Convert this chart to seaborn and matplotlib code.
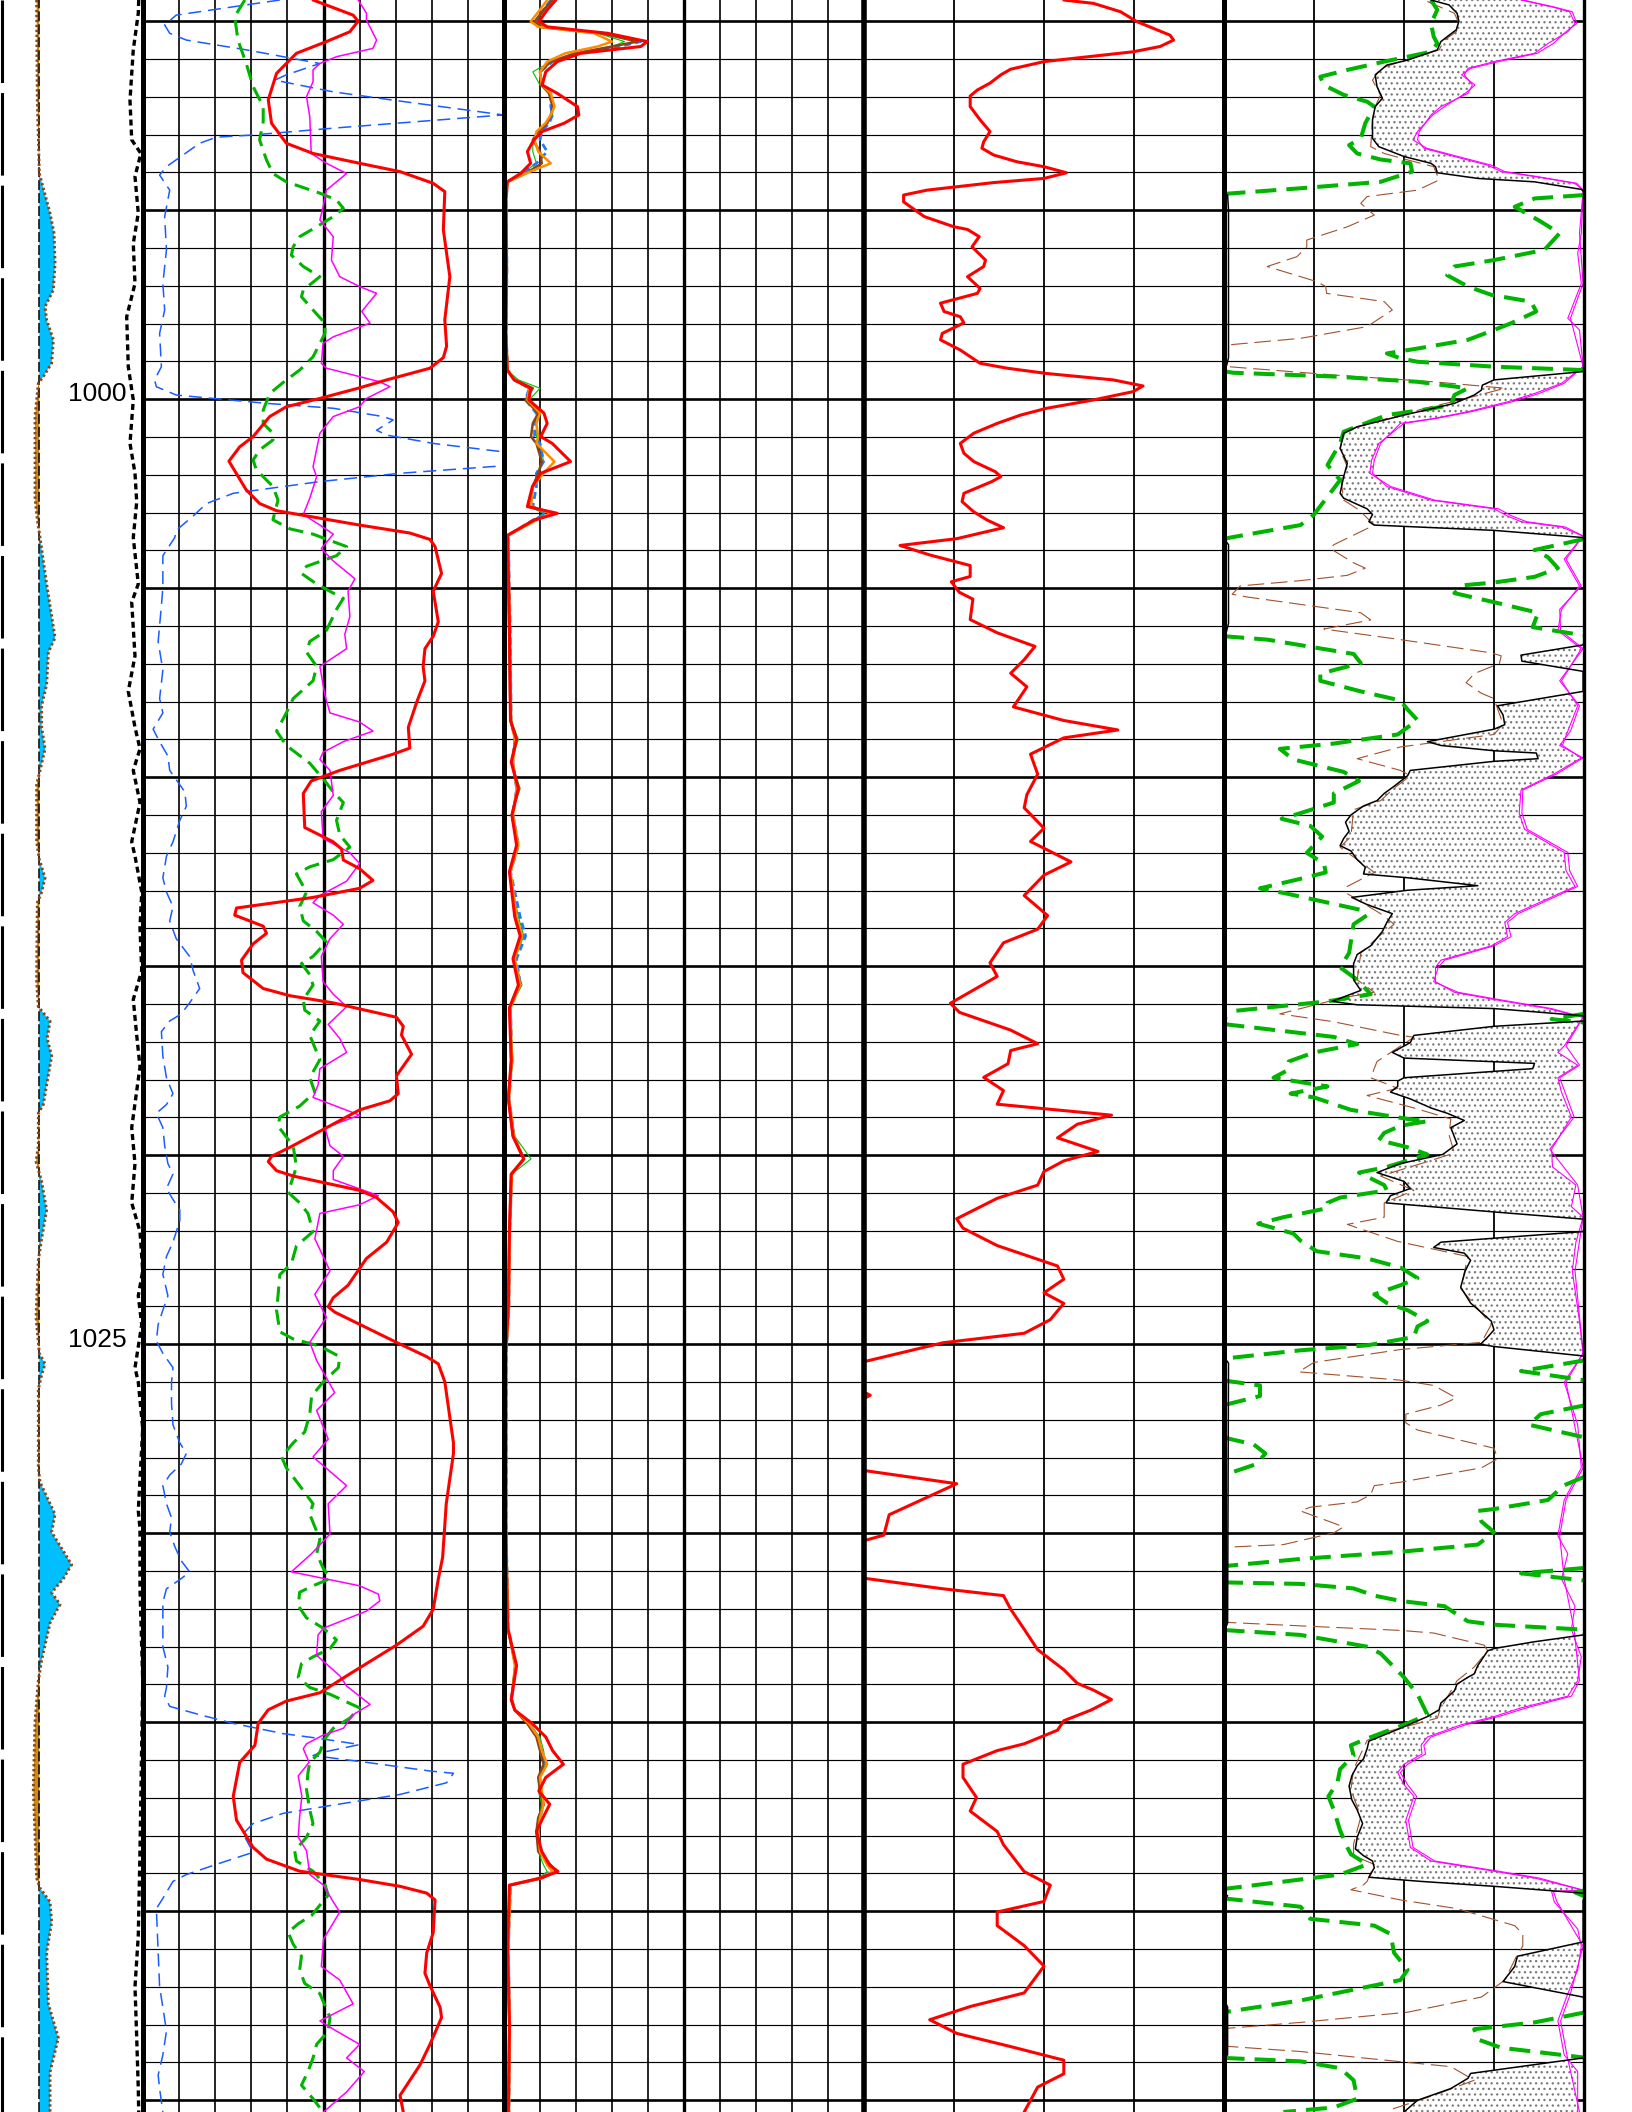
import numpy as np
import pandas as pd
import matplotlib
matplotlib.use("Agg")
import matplotlib.pyplot as plt
import seaborn as sns

sns.set_theme(style="white")
plt.rcParams["font.family"] = ["Liberation Sans", "DejaVu Sans"]
plt.rcParams["hatch.linewidth"] = 0.9

TOP, BOTTOM = 989.44, 1045.31
DEPTH_LABELS = [1000, 1025]
SP_BASE = 2.75

# ---------------- depth track ----------------
sp_curve = [(989.44,2.56),(992.09,2.61),(994.03,2.75),(995.08,3.50),(995.61,3.78),(996.41,3.85),(997.11,3.73),(997.55,3.15),(997.90,3.26),(998.43,3.73),
 (999.05,3.61),(999.40,3.03),(999.58,2.68),(1000.46,2.45),(1002.23,2.45),(1002.62,2.45),(1003.19,2.61),(1003.66,2.80),(1004.89,3.26),(1006.31,3.85),
 (1006.69,3.38),(1007.55,3.26),(1008.11,2.91),(1008.68,2.91),(1009.25,3.15),(1009.82,2.80),(1010.20,2.56),(1011.71,2.56),(1012.18,2.75),(1012.66,3.15),
 (1013.04,2.91),(1013.32,2.61),(1015.40,2.56),(1016.07,2.68),(1016.45,3.50),(1016.91,3.30),(1017.38,3.61),(1018.14,3.26),(1018.66,3.03),(1018.89,2.68),
 (1019.75,2.68),(1020.17,2.52),(1020.69,2.91),(1021.45,3.26),(1022.21,2.91),(1022.78,2.68),(1024.29,2.52),(1025.24,2.75),(1025.52,3.15),(1025.81,2.91),
 (1026.19,2.68),(1028.27,2.68),(1028.65,2.80),(1029.50,3.85),(1029.97,3.61),(1030.83,5.01),(1031.20,4.43),(1031.57,3.61),(1031.88,4.20),(1032.37,3.50),
 (1033.36,2.91),(1033.90,2.68),(1034.98,2.45),(1036.78,2.33),(1039.12,2.56),(1039.39,2.80),(1039.75,3.50),(1040.29,3.61),(1041.10,3.26),(1042.45,3.38),
 (1043.35,4.08),(1044.25,3.50),(1045.31,3.50)]
caliper = [(989.44,9.70),(989.79,9.67),(990.76,9.32),(992.09,9.09),(993.14,9.21),(993.50,9.85),(994.11,9.44),(995.08,9.67),(995.88,9.32),(996.94,9.44),
 (997.82,8.86),(999.14,8.97),(1000.02,9.32),(1001.17,9.09),(1001.96,9.44),(1002.72,9.56),(1003.66,9.32),(1004.89,9.67),(1005.37,9.21),(1006.79,9.44),
 (1007.73,8.97),(1008.68,9.44),(1009.25,9.79),(1009.82,9.32),(1010.67,9.79),(1011.71,9.21),(1012.09,9.44),(1013.04,9.91),(1013.98,9.79),(1015.12,9.91),
 (1015.88,9.32),(1016.83,9.56),(1017.66,9.79),(1019.27,9.21),(1020.22,9.44),(1021.26,9.21),(1022.02,9.79),(1023.06,9.98),(1023.72,9.67),(1024.48,9.91),
 (1025.62,9.44),(1026.00,9.67),(1027.23,9.98),(1029.41,9.67),(1029.88,9.79),(1031.47,9.79),(1033.90,9.98),(1038.40,9.79),(1040.65,9.67),(1042.00,9.44),
 (1043.35,9.56),(1044.69,9.67),(1045.31,9.70)]
edge_curve = [(989.44,0.12),(1045.31,0.12)]

# ---------------- track 1 ----------------
t1_red = [(989.44,4.71),(989.84,5.82),(990.00,5.96),(990.28,5.73),(990.54,5.08),(990.85,4.25),(991.38,3.70),(992.08,3.47),(992.70,3.56),(993.23,3.97),
 (993.50,4.71),(993.76,6.00),(993.98,7.12),(994.29,8.04),(994.51,8.36),(995.52,8.32),(996.76,8.50),(997.90,8.36),(998.60,8.41),(998.90,8.32),
 (999.18,7.95),(999.49,6.75),(999.71,5.96),(999.98,4.90),(1000.20,3.97),(1000.46,3.51),(1000.99,3.05),(1001.26,2.68),(1001.64,2.38),(1002.40,2.86),
 (1002.76,3.23),(1002.95,3.70),(1003.33,6.00),(1003.54,7.39),(1003.71,7.95),(1003.90,8.09),(1004.61,8.27),(1005.08,8.04),(1005.89,8.18),(1006.27,8.04),
 (1006.60,7.81),(1007.07,7.76),(1007.45,7.81),(1008.02,7.58),(1008.68,7.35),(1009.23,7.39),(1009.39,6.93),(1009.82,5.45),(1010.10,4.66),(1010.43,4.44),
 (1011.33,4.48),(1011.71,5.27),(1011.90,5.50),(1012.19,5.55),(1012.42,6.00),(1012.73,6.37),(1012.94,6.00),(1013.18,4.71),(1013.46,2.59),(1013.65,2.54),
 (1013.94,3.33),(1014.13,3.42),(1014.41,3.05),(1014.84,2.73),(1015.17,2.77),(1015.59,3.33),(1015.78,4.07),(1015.97,5.27),(1016.35,7.02),(1016.59,7.21),
 (1016.82,7.16),(1017.33,7.44),(1017.90,7.02),(1018.37,7.07),(1018.56,6.84),(1018.80,6.00),(1019.32,4.99),(1019.79,4.07),(1020.03,3.56),(1020.17,3.47),
 (1020.41,3.70),(1020.55,4.16),(1020.93,6.00),(1021.12,6.47),(1021.50,6.93),(1021.78,7.07),(1022.30,6.75),(1022.73,6.19),(1023.44,5.68),(1023.77,5.27),
 (1024.01,5.13),(1024.15,5.31),(1024.95,7.02),(1025.33,7.86),(1025.52,8.18),(1025.99,8.36),(1027.61,8.60),(1027.89,8.60),(1029.22,8.40),(1030.64,8.30),
 (1031.21,8.18),(1032.01,8.04),(1032.46,7.76),(1032.96,7.02),(1033.23,6.56),(1033.72,5.73),(1034.22,4.90),(1034.44,3.97),(1034.67,3.47),(1035.03,3.19),
 (1035.61,3.10),(1036.06,2.68),(1036.96,2.50),(1037.59,2.59),(1038.31,3.05),(1038.62,3.42),(1038.94,4.34),(1039.16,6.00),(1039.34,7.12),(1039.52,7.86),
 (1039.70,8.09),(1040.56,8.04),(1041.10,7.86),(1041.64,7.81),(1041.97,7.95),(1042.54,8.23),(1042.81,8.27),(1043.52,7.95),(1044.07,7.67),(1044.87,7.12),
 (1045.31,7.21)]
t1_magenta = [(989.44,5.96),(989.79,6.19),(989.97,6.19),(990.50,6.47),(990.72,6.37),(990.94,5.36),(991.12,4.90),(991.29,4.71),(991.60,4.71),(992.00,4.53),
 (992.53,4.62),(993.50,4.66),(993.76,5.08),(994.03,5.64),(994.47,5.08),(994.91,4.99),(995.26,4.90),(995.70,5.27),(996.32,5.22),(996.76,5.45),
 (997.02,6.00),(997.20,6.47),(997.68,6.06),(997.99,6.29),(998.35,5.27),(998.52,4.99),(999.05,4.94),(999.18,5.08),(999.54,6.56),(999.67,6.84),
 (999.98,6.19),(1000.20,6.00),(1000.46,5.27),(1000.90,4.90),(1001.79,4.71),(1002.05,4.81),(1002.62,4.62),(1003.05,4.44),(1003.33,4.90),(1003.57,5.27),
 (1003.95,4.94),(1004.28,5.27),(1004.75,5.87),(1005.08,5.68),(1005.75,5.73),(1006.22,5.59),(1006.60,5.64),(1007.07,4.90),(1007.83,5.04),(1008.30,5.18),
 (1008.54,6.00),(1008.78,6.37),(1009.06,5.55),(1009.34,4.99),(1009.53,4.90),(1009.82,5.18),(1010.48,5.27),(1010.91,4.94),(1011.62,4.99),(1012.00,5.73),
 (1012.28,6.00),(1012.75,5.64),(1013.13,4.90),(1013.32,4.71),(1013.65,5.27),(1013.89,5.55),(1014.27,5.18),(1014.74,4.94),(1015.41,4.99),(1015.74,5.27),
 (1016.07,5.64),(1016.54,5.13),(1016.91,5.45),(1017.28,5.64),(1017.71,4.90),(1018.14,4.85),(1018.47,4.71),(1018.94,6.00),(1019.27,5.04),(1019.75,5.18),
 (1020.03,5.55),(1020.41,5.27),(1020.64,5.27),(1021.07,6.52),(1021.31,6.00),(1021.54,4.90),(1022.21,4.76),(1023.06,5.18),(1023.68,4.76),(1024.29,5.08),
 (1024.95,4.62),(1025.43,4.81),(1026.28,5.31),(1026.75,4.81),(1027.51,5.13),(1027.98,4.71),(1028.74,5.64),(1029.22,5.13),(1030.02,5.18),(1030.54,4.67),
 (1031.02,4.11),(1031.39,6.00),(1031.61,6.52),(1031.79,6.56),(1032.06,6.19),(1032.51,5.00),(1032.69,4.85),(1033.23,4.81),(1033.54,5.18),(1033.77,5.45),
 (1034.04,5.64),(1034.31,6.00),(1034.53,6.29),(1034.80,5.82),(1035.16,5.55),(1035.34,4.99),(1035.57,4.53),(1035.70,4.44),(1036.06,4.60),(1036.42,4.30),
 (1036.96,4.40),(1037.50,4.34),(1038.04,4.30),(1038.40,4.53),(1039.03,4.62),(1039.30,4.99),(1039.75,5.27),(1040.02,5.45),(1040.74,5.00),(1041.46,4.94),
 (1041.82,5.45),(1042.45,5.82),(1042.90,4.90),(1043.17,5.36),(1043.52,6.00),(1043.88,5.64),(1044.24,6.13),(1044.78,5.64),(1045.31,5.00)]
t1_green = [(989.44,2.82),(989.88,2.54),(990.50,2.63),(991.12,2.86),(991.73,3.05),(992.26,3.33),(992.66,3.33),(993.14,3.23),(993.67,3.42),(994.03,3.60),
 (994.25,3.97),(994.55,4.90),(994.73,5.36),(994.95,5.55),(995.17,5.27),(995.44,4.81),(995.70,4.34),(995.97,4.16),(996.19,4.11),(996.49,4.44),
 (996.76,4.90),(997.11,4.44),(997.29,4.39),(997.64,4.71),(997.99,5.04),(998.26,5.04),(998.88,4.71),(999.23,4.34),(999.49,3.97),(999.85,3.51),
 (1000.29,3.33),(1000.64,3.33),(1000.90,3.60),(1001.08,3.60),(1001.34,3.23),(1001.61,3.05),(1001.87,3.14),(1002.31,3.60),(1002.67,3.74),(1003.19,3.60),
 (1003.43,4.07),(1003.57,4.71),(1003.90,5.64),(1004.14,5.36),(1004.42,4.53),(1004.61,4.39),(1004.89,4.81),(1005.13,5.27),(1005.27,5.55),(1005.56,5.36),
 (1006.12,5.08),(1006.41,4.62),(1006.69,4.53),(1007.07,4.81),(1007.45,4.71),(1007.92,4.16),(1008.30,3.97),(1008.78,3.70),(1009.16,3.97),(1009.63,4.62),
 (1010.10,5.04),(1010.39,5.27),(1010.67,5.55),(1011.14,5.36),(1011.52,5.45),(1011.85,5.73),(1012.18,5.27),(1012.37,4.62),(1012.56,4.25),(1013.04,4.53),
 (1013.42,4.34),(1013.80,4.44),(1014.08,4.81),(1014.36,5.08),(1014.74,4.71),(1014.93,4.39),(1015.22,4.62),(1015.50,4.71),(1015.88,4.44),(1016.16,4.48),
 (1016.45,4.90),(1016.83,4.62),(1017.47,4.90),(1017.95,4.62),(1018.33,4.76),(1018.70,4.34),(1018.99,3.79),(1019.23,3.74),(1019.75,4.16),(1020.31,4.25),
 (1020.98,4.02),(1021.26,4.34),(1021.54,4.57),(1022.02,4.71),(1022.40,4.25),(1022.87,4.11),(1023.16,3.79),(1023.72,3.74),(1024.10,3.70),(1024.67,3.79),
 (1024.86,4.16),(1025.05,4.90),(1025.33,5.45),(1025.62,5.41),(1026.00,4.99),(1026.37,4.67),(1026.85,4.62),(1027.32,4.48),(1027.61,4.16),(1027.98,3.84),
 (1028.27,3.97),(1028.74,4.34),(1029.22,4.71),(1029.50,4.62),(1029.83,4.76),(1030.16,4.90),(1030.54,4.81),(1030.92,4.99),(1031.20,5.18),(1031.39,4.71),
 (1031.56,4.34),(1031.92,4.30),(1032.24,4.53),(1032.51,4.99),(1032.82,5.36),(1033.05,5.18),(1033.27,4.71),(1033.45,4.39),(1033.81,4.30),(1034.08,4.62),
 (1034.26,5.18),(1034.62,6.00),(1034.89,5.73),(1035.16,5.27),(1035.43,5.04),(1035.79,4.90),(1036.06,4.62),(1036.33,4.57),(1036.78,4.53),(1037.32,4.62),
 (1037.68,4.71),(1038.04,4.53),(1038.40,4.20),(1038.67,4.25),(1038.94,4.71),(1039.30,5.04),(1039.57,5.13),(1039.84,4.90),(1040.11,4.67),(1040.33,4.30),
 (1040.56,4.02),(1040.87,4.16),(1041.19,4.39),(1041.55,4.34),(1041.91,4.48),(1042.18,4.90),(1042.81,5.18),(1043.17,5.13),(1043.52,4.81),(1043.88,4.71),
 (1044.24,4.57),(1044.60,4.39),(1044.96,4.71),(1045.31,4.99)]
t1_blue = [(989.44,3.79),(989.84,0.92),(990.10,0.60),(990.32,0.74),(990.50,1.20),(990.76,2.87),(991.12,4.90),(991.42,3.97),(991.56,3.65),(991.87,5.27),
 (992.09,6.93),(992.48,9.98),(992.83,5.27),(993.01,3.05),(993.07,2.03),(993.23,1.57),(993.85,0.65),(994.07,0.46),(994.47,0.74),(995.17,0.60),
 (996.05,0.65),(996.94,0.55),(997.64,0.60),(998.26,0.46),(999.14,0.51),(999.49,0.32),(999.67,0.37),(999.89,0.92),(999.98,1.94),(1000.11,3.42),
 (1000.24,5.27),(1000.46,6.65),(1000.55,6.93),(1000.82,6.47),(1000.95,6.75),(1001.17,8.04),(1001.43,10.3),(1001.74,10.3),(1001.96,7.12),(1002.18,4.90),
 (1002.49,2.50),(1002.76,1.76),(1003.09,1.39),(1003.47,0.92),(1003.66,0.88),(1004.14,0.55),(1004.99,0.55),(1005.46,0.51),(1006.41,0.42),(1007.17,0.55),
 (1007.92,0.46),(1008.30,0.55),(1008.73,0.28),(1009.06,0.46),(1009.44,0.69),(1009.82,0.74),(1010.39,1.16),(1010.77,1.20),(1011.14,1.02),(1011.71,0.83),
 (1012.09,0.65),(1012.66,0.55),(1013.04,0.65),(1013.42,0.83),(1013.80,0.74),(1014.27,0.92),(1014.74,1.29),(1015.12,1.39),(1015.59,1.57),(1015.97,1.29),
 (1016.26,1.06),(1016.45,0.74),(1016.73,0.51),(1017.38,0.55),(1017.95,0.65),(1018.37,0.83),(1018.66,0.65),(1018.89,0.37),(1019.27,0.55),(1019.75,0.60),
 (1020.22,0.69),(1020.50,0.83),(1020.88,0.65),(1021.17,0.83),(1021.45,1.02),(1021.73,1.02),(1022.30,0.83),(1022.68,0.65),(1023.15,0.55),(1023.72,0.69),
 (1024.10,0.55),(1024.48,0.42),(1024.91,0.37),(1025.24,0.55),(1025.62,0.83),(1026.00,0.79),(1026.56,0.79),(1027.13,0.83),(1027.61,1.02),(1027.89,1.20),
 (1028.17,1.06),(1028.46,0.74),(1028.74,0.55),(1029.22,0.65),(1029.59,0.79),(1029.97,0.74),(1030.35,0.88),(1030.73,1.06),(1031.02,1.29),(1031.20,1.06),
 (1031.47,0.65),(1031.83,0.55),(1033.00,0.55),(1033.54,0.69),(1034.08,0.65),(1034.31,0.60),(1034.58,0.74),(1034.80,1.57),(1035.03,2.50),(1035.30,3.88),
 (1035.43,4.90),(1035.59,6.00),(1035.81,4.90),(1035.88,4.71),(1036.06,6.19),(1036.29,7.95),(1036.35,8.60),(1036.60,8.41),(1036.91,7.12),(1037.19,5.27),
 (1037.41,3.88),(1037.68,3.05),(1037.95,2.77),(1038.44,3.05),(1038.76,2.03),(1039.03,1.20),(1039.21,0.83),(1039.66,0.55),(1039.93,0.37),(1041.10,0.42),
 (1042.00,0.46),(1042.54,0.55),(1043.17,0.65),(1043.80,0.55),(1044.33,0.42),(1044.69,0.46),(1045.31,0.55)]

# ---------------- track 2 (shared depth samples) ----------------
t2_depth = [
 989.44, 989.70, 990.01, 990.15, 990.32, 990.54, 990.67, 990.85, 991.07, 991.34,
 991.69, 991.91, 992.26, 992.48, 992.70, 992.92, 993.14, 993.45, 993.76, 994.03,
 994.25, 994.73, 996.50, 998.26, 999.23, 999.49, 999.71, 1000.02, 1000.37, 1000.64,
 1000.99, 1001.17, 1001.65, 1001.96, 1002.31, 1002.84, 1003.02, 1003.20, 1003.60, 1006.00,
 1008.50, 1009.00, 1009.60, 1010.30, 1011.00, 1011.80, 1012.50, 1013.70, 1014.20, 1014.80,
 1015.50, 1016.10, 1017.50, 1018.50, 1019.50, 1020.10, 1020.50, 1022.00, 1024.00, 1025.20,
 1030.00, 1032.50, 1033.50, 1034.40, 1034.68, 1035.04, 1035.39, 1035.75, 1036.11, 1036.46,
 1036.82, 1037.17, 1037.53, 1037.89, 1038.42, 1038.78, 1038.95, 1039.13, 1039.31, 1041.00,
 1043.00, 1045.31]
t2_red = [
 1.44, 1.20, 0.97, 1.20, 2.87, 3.98, 3.80, 2.13, 1.48, 1.16,
 1.06, 1.48, 2.04, 2.08, 1.67, 1.06, 0.83, 0.65, 0.74, 0.46,
 0.09, 0.05, 0.07, 0.05, 0.09, 0.28, 0.74, 0.69, 1.11, 1.20,
 1.02, 1.34, 1.85, 1.02, 0.79, 0.65, 1.48, 0.83, 0.10, 0.15,
 0.18, 0.35, 0.20, 0.40, 0.22, 0.35, 0.15, 0.30, 0.45, 0.25,
 0.40, 0.15, 0.20, 0.12, 0.25, 0.55, 0.20, 0.15, 0.12, 0.05,
 0.05, 0.10, 0.35, 0.20, 0.30, 0.79, 1.16, 1.35, 1.65, 1.16,
 0.97, 1.27, 1.08, 0.90, 1.05, 1.27, 1.50, 0.97, 0.15, 0.10,
 0.15, 0.12]
t2_orange = [
 1.20, 1.00, 0.74, 0.95, 2.50, 3.00, 2.60, 1.70, 1.20, 1.00,
 1.05, 1.30, 1.40, 1.30, 1.15, 0.90, 0.85, 0.95, 1.30, 0.60,
 0.10, 0.06, 0.08, 0.06, 0.10, 0.30, 0.70, 0.65, 1.00, 0.90,
 0.95, 0.90, 1.40, 1.10, 0.80, 0.75, 1.30, 0.90, 0.12, 0.16,
 0.20, 0.30, 0.25, 0.35, 0.25, 0.40, 0.18, 0.35, 0.50, 0.30,
 0.45, 0.18, 0.22, 0.14, 0.28, 0.55, 0.22, 0.16, 0.14, 0.06,
 0.06, 0.12, 0.30, 0.22, 0.30, 0.70, 0.95, 1.05, 1.20, 1.00,
 1.05, 1.10, 1.00, 0.95, 1.00, 1.20, 1.35, 1.00, 0.18, 0.12,
 0.16, 0.14]
t2_brown = [
 1.35, 1.10, 0.85, 1.00, 2.70, 3.70, 3.00, 2.00, 1.30, 1.00,
 1.05, 1.25, 1.35, 1.30, 1.20, 0.95, 0.80, 1.00, 1.05, 0.60,
 0.09, 0.05, 0.06, 0.05, 0.09, 0.30, 0.80, 0.60, 0.95, 0.80,
 0.75, 0.90, 1.05, 0.95, 0.80, 0.70, 1.40, 0.85, 0.10, 0.14,
 0.18, 0.32, 0.22, 0.38, 0.22, 0.38, 0.16, 0.32, 0.48, 0.28,
 0.42, 0.16, 0.20, 0.12, 0.25, 0.55, 0.20, 0.15, 0.12, 0.05,
 0.05, 0.10, 0.32, 0.20, 0.30, 0.65, 0.90, 1.00, 1.10, 0.95,
 1.00, 1.10, 0.95, 0.90, 0.95, 1.30, 1.45, 1.05, 0.16, 0.10,
 0.15, 0.12]
t2_green = [
 1.30, 1.10, 0.90, 1.10, 2.60, 3.35, 3.00, 1.90, 1.30, 0.80,
 1.00, 1.25, 1.35, 1.35, 1.20, 0.95, 0.80, 0.80, 0.90, 0.50,
 0.09, 0.05, 0.06, 0.05, 0.09, 0.40, 1.00, 0.70, 1.00, 0.90,
 0.90, 1.00, 1.10, 0.95, 0.80, 0.70, 1.10, 0.80, 0.10, 0.15,
 0.20, 0.40, 0.20, 0.45, 0.20, 0.35, 0.15, 0.40, 0.55, 0.30,
 0.50, 0.15, 0.25, 0.12, 0.30, 0.75, 0.22, 0.15, 0.12, 0.05,
 0.05, 0.10, 0.30, 0.20, 0.30, 0.70, 1.00, 1.10, 1.15, 1.00,
 0.95, 1.05, 0.95, 0.90, 0.95, 1.10, 1.20, 0.95, 0.15, 0.10,
 0.15, 0.12]
t2_blue = [
 1.30, 1.10, 0.90, 1.00, 2.80, 3.80, 3.20, 2.00, 1.35, 1.00,
 1.05, 1.30, 1.30, 1.35, 1.25, 1.05, 1.00, 1.20, 0.90, 0.50,
 0.10, 0.06, 0.08, 0.06, 0.10, 0.30, 0.70, 0.60, 0.90, 0.85,
 0.85, 1.00, 1.10, 0.90, 0.90, 0.80, 1.20, 0.80, 0.12, 0.17,
 0.20, 0.30, 0.25, 0.35, 0.25, 0.40, 0.18, 0.45, 0.60, 0.35,
 0.45, 0.18, 0.22, 0.14, 0.28, 0.55, 0.22, 0.16, 0.14, 0.06,
 0.06, 0.12, 0.32, 0.22, 0.30, 0.70, 0.95, 1.05, 1.15, 1.00,
 1.00, 1.10, 1.00, 0.95, 1.00, 1.25, 1.30, 1.00, 0.18, 0.12,
 0.16, 0.14]

# ---------------- track 3 ----------------
t3_red = [(989.44,2.22),(989.53,2.55),(989.75,2.85),(990.01,3.03),(990.37,3.40),(990.50,3.44),(990.67,3.29),(990.81,2.99),(991.07,2.00),(991.27,1.63),
 (991.42,1.52),(991.64,1.40),(991.82,1.26),(991.98,1.18),(992.26,1.18),(992.61,1.29),(992.92,1.40),(993.19,1.33),(993.36,1.31),(993.54,1.44),
 (993.72,1.70),(993.85,2.00),(994.01,2.25),(994.16,2.00),(994.27,1.44),(994.47,0.70),(994.60,0.44),(994.78,0.44),(995.17,0.67),(995.44,1.00),
 (995.51,1.15),(995.70,1.28),(995.97,1.20),(996.32,1.35),(996.49,1.33),(996.76,1.15),(997.07,1.29),(997.20,1.26),(997.46,0.85),(997.68,0.89),
 (997.82,1.07),(997.98,1.11),(998.26,0.87),(998.43,0.85),(998.70,1.07),(999.05,1.29),(999.18,1.59),(999.32,2.03),(999.49,2.77),(999.65,3.10),
 (999.80,2.99),(1000.02,2.55),(1000.24,2.03),(1000.42,1.74),(1000.64,1.48),(1000.90,1.22),(1001.17,1.07),(1001.43,1.11),(1001.65,1.22),(1001.92,1.46),
 (1002.05,1.52),(1002.18,1.42),(1002.36,1.24),(1002.49,1.11),(1002.71,1.09),(1002.98,1.22),(1003.20,1.37),(1003.40,1.55),(1003.69,1.03),(1003.87,0.40),
 (1004.12,0.73),(1004.40,1.18),(1004.69,1.18),(1004.83,0.97),(1005.11,1.06),(1005.29,1.21),(1005.83,1.18),(1006.18,1.48),(1006.54,1.90),(1006.89,1.78),
 (1007.25,1.63),(1007.61,1.81),(1008.14,1.66),(1008.50,2.22),(1008.75,2.82),(1008.96,2.22),(1009.39,1.85),(1009.92,1.93),(1010.46,1.81),(1010.81,1.78),
 (1011.35,2.00),(1011.70,1.85),(1012.24,2.30),(1012.59,2.00),(1013.13,1.78),(1013.66,2.04),(1014.02,1.93),(1014.38,1.55),(1014.91,1.40),(1015.27,1.48),
 (1015.98,0.96),(1016.22,1.06),(1016.69,1.63),(1017.05,1.93),(1017.23,1.63),(1017.58,1.60),(1017.94,1.33),(1018.29,1.55),(1018.65,1.48),(1018.94,2.75),
 (1019.18,2.37),(1019.54,2.15),(1019.90,2.60),(1020.15,2.22),(1020.43,2.00),(1020.79,1.93),(1021.14,1.48),(1021.68,1.03),(1021.93,1.10),(1022.39,1.48),
 (1022.93,2.15),(1023.28,2.22),(1023.64,2.00),(1023.92,2.22),(1024.35,2.07),(1024.71,1.78),(1024.96,0.88),(1025.49,-0.05),(1025.80,-0.40),(1026.15,-0.10),
 (1026.35,0.07),(1026.55,-0.10),(1027.00,-0.40),(1028.20,-0.40),(1028.34,0.00),(1028.69,1.03),(1029.51,0.28),(1030.05,0.22),(1030.23,-0.05),(1030.60,-0.40),
 (1031.00,-0.40),(1031.19,0.00),(1031.47,0.88),(1031.65,1.55),(1032.01,1.63),(1032.54,1.78),(1033.08,1.93),(1033.61,2.22),(1033.97,2.37),(1034.15,2.55),
 (1034.40,2.75),(1034.68,2.52),(1034.96,2.22),(1035.21,2.15),(1035.57,1.78),(1035.75,1.48),(1036.11,1.10),(1036.46,1.10),(1036.99,1.25),(1037.35,1.18),
 (1037.89,1.48),(1038.24,1.55),(1038.95,1.78),(1039.31,2.07),(1039.74,2.00),(1040.02,1.48),(1040.38,1.48),(1040.91,1.78),(1041.45,2.00),(1042.16,1.78),
 (1042.52,1.18),(1042.87,0.73),(1043.23,1.03),(1043.58,1.63),(1043.94,2.22),(1044.30,2.22),(1044.65,1.93),(1045.31,1.78)]

# ---------------- track 4 (values above 4 or below 0 wrap around) ----------------
t4_black = [(989.44,2.30),(989.57,2.50),(989.79,2.59),(990.01,2.61),(990.23,2.58),(990.41,2.48),(990.54,2.41),(990.76,2.37),(991.03,2.04),(991.16,1.81),
 (991.42,1.68),(991.73,1.70),(992.04,1.76),(992.26,1.68),(992.61,1.65),(993.10,1.65),(993.32,1.72),(993.58,2.00),(993.76,2.30),(993.85,2.35),
 (994.01,2.37),(994.16,2.82),(994.25,3.45),(994.45,3.97),(994.60,4.04),(995.00,4.05),(998.90,4.05),(999.10,4.03),(999.27,3.99),(999.49,3.00),
 (999.63,2.87),(999.76,2.86),(999.89,2.78),(1000.11,2.56),(1000.24,2.33),(1000.42,2.00),(1000.73,1.48),(1000.90,1.33),(1001.30,1.29),(1001.70,1.37),
 (1002.05,1.33),(1002.49,1.29),(1002.62,1.33),(1002.90,1.59),(1003.05,1.65),(1003.24,1.61),(1003.33,1.67),(1003.47,3.00),(1003.66,3.99),(1003.85,4.05),
 (1005.93,4.05),(1006.22,4.02),(1006.50,3.99),(1006.77,3.30),(1006.93,3.31),(1007.20,3.99),(1007.73,3.99),(1008.11,3.04),(1008.35,3.10),(1008.61,3.12),
 (1008.73,3.00),(1009.06,2.26),(1009.16,2.41),(1009.30,3.00),(1009.36,3.47),(1009.51,3.49),(1009.58,3.00),(1009.82,2.07),(1009.96,2.04),(1010.24,1.89),
 (1010.43,1.78),(1010.62,1.70),(1010.76,1.55),(1011.00,1.41),(1011.19,1.35),(1011.43,1.39),(1011.62,1.33),(1011.81,1.29),(1011.95,1.41),(1012.18,1.48),
 (1012.38,1.57),(1012.56,1.55),(1012.66,2.04),(1012.87,2.82),(1012.99,2.04),(1013.18,1.42),(1013.37,1.59),(1013.61,1.87),(1013.84,1.81),(1014.08,1.76),
 (1014.46,1.63),(1014.69,1.48),(1014.93,1.44),(1015.36,1.44),(1015.64,1.52),(1015.93,1.20),(1016.02,1.48),(1016.12,3.00),(1016.31,3.99),(1016.37,4.03),
 (1016.45,3.99),(1016.59,3.00),(1016.83,2.11),(1017.02,2.07),(1017.28,1.87),(1017.43,2.00),(1017.57,3.45),(1017.71,3.43),(1017.95,2.00),(1018.04,1.93),
 (1018.18,1.93),(1018.33,1.85),(1018.51,2.07),(1018.75,2.30),(1018.89,2.48),(1019.08,2.67),(1019.27,2.52),(1019.70,2.59),(1019.98,2.43),(1020.22,1.96),
 (1020.46,1.70),(1020.69,2.00),(1020.88,2.07),(1021.07,1.85),(1021.26,1.80),(1021.50,3.00),(1021.69,3.99),(1021.85,4.01),(1022.02,3.99),(1022.30,2.41),
 (1022.44,2.33),(1022.59,2.67),(1022.78,2.74),(1023.06,2.68),(1023.49,2.63),(1023.91,2.74),(1024.39,2.97),(1024.62,3.00),(1024.81,2.93),(1025.00,2.85),
 (1025.06,3.00),(1025.31,3.99),(1025.50,4.05),(1032.37,4.04),(1032.69,3.99),(1032.87,3.45),(1033.05,3.00),(1033.11,2.93),(1033.50,2.82),(1033.72,2.78),
 (1033.81,2.71),(1033.99,2.59),(1034.17,2.56),(1034.49,2.41),(1034.67,2.39),(1034.85,2.26),(1035.16,1.96),(1035.50,1.61),(1035.70,1.59),(1035.97,1.55),
 (1036.15,1.48),(1036.42,1.42),(1036.69,1.39),(1037.05,1.42),(1037.32,1.48),(1037.68,1.54),(1038.04,1.48),(1038.35,1.46),(1038.53,1.55),(1038.67,1.65),
 (1038.85,1.67),(1039.10,1.61),(1039.21,2.19),(1039.34,3.00),(1039.52,3.99),(1039.59,4.04),(1039.70,3.99),(1040.81,3.99),(1041.19,3.26),(1041.46,3.23),
 (1041.86,3.10),(1042.27,3.99),(1042.54,4.04),(1043.80,4.04),(1043.88,3.99),(1044.29,2.74),(1044.42,2.71),(1044.69,2.52),(1045.00,2.15),(1045.31,2.00)]
t4_magenta = [(989.44,3.30),(989.62,3.64),(989.75,3.84),(990.06,3.90),(990.28,3.82),(990.59,3.60),(990.85,3.45),(991.07,3.00),(991.25,2.71),(991.42,2.67),
 (991.69,2.76),(991.91,2.71),(992.26,2.41),(992.48,2.30),(992.92,2.17),(993.14,2.15),(993.36,2.22),(993.58,2.56),(993.81,2.93),(993.98,3.08),
 (994.11,3.45),(994.29,3.90),(994.47,3.99),(995.61,3.97),(996.14,3.93),(996.94,3.97),(997.86,3.82),(998.17,3.95),(999.14,3.99),(999.58,3.75),
 (999.85,3.45),(1000.07,3.15),(1000.33,2.71),(1000.51,2.33),(1000.64,1.96),(1001.17,1.74),(1001.61,1.67),(1001.96,1.65),(1002.31,1.81),(1002.67,2.30),
 (1002.90,3.00),(1003.09,3.15),(1003.24,3.30),(1003.38,3.75),(1003.62,3.99),(1004.23,3.78),(1004.94,3.95),(1005.56,3.75),(1006.12,3.71),(1006.60,3.97),
 (1007.45,3.75),(1008.11,3.93),(1008.78,3.82),(1009.16,3.76),(1009.49,3.97),(1009.91,3.67),(1010.34,3.30),(1010.95,3.28),(1011.38,3.34),(1011.99,3.78),
 (1012.47,3.80),(1012.89,3.90),(1013.61,3.23),(1013.84,3.12),(1014.22,3.15),(1014.46,2.97),(1014.84,2.41),(1015.03,2.35),(1015.41,2.35),(1015.69,2.56),
 (1015.88,3.00),(1016.12,3.60),(1016.35,3.99),(1017.11,3.78),(1017.28,3.71),(1017.62,3.93),(1017.95,3.71),(1018.33,3.75),(1018.99,3.86),(1019.84,3.64),
 (1020.31,3.65),(1020.79,3.91),(1021.36,3.86),(1021.64,3.99),(1022.30,3.91),(1023.06,3.87),(1024.39,3.95),(1025.24,3.99),(1026.00,3.78),(1027.13,3.93),
 (1028.27,3.97),(1029.12,3.78),(1030.07,3.71),(1030.54,3.82),(1031.21,3.75),(1031.93,3.90),(1032.55,3.86),(1033.27,3.97),(1033.90,3.93),(1034.31,3.82),
 (1034.62,3.30),(1034.85,3.00),(1035.07,2.63),(1035.39,2.26),(1035.61,2.19),(1035.84,2.20),(1036.11,2.00),(1036.33,1.93),(1036.65,2.00),(1036.96,2.11),
 (1037.59,2.02),(1038.31,2.07),(1038.67,2.30),(1038.94,3.00),(1039.12,3.45),(1039.44,3.99),(1039.48,3.64),(1039.75,3.67),(1040.47,3.93),(1040.92,3.97),
 (1041.55,3.93),(1042.18,3.82),(1042.90,3.71),(1043.80,3.78),(1044.24,3.93),(1045.31,3.93)]
t4_magenta2 = [(989.44,3.32),(989.62,3.66),(989.75,3.87),(990.06,3.92),(990.28,3.80),(990.59,3.66),(990.85,3.48),(991.07,3.05),(991.25,2.74),(991.42,2.64),
 (991.69,2.79),(991.91,2.68),(992.26,2.45),(992.48,2.32),(992.92,2.15),(993.14,2.10),(993.36,2.25),(993.58,2.60),(993.81,2.97),(993.98,3.12),
 (994.11,3.48),(994.29,3.92),(994.47,3.99),(995.61,3.95),(996.94,3.99),(997.86,3.85),(999.14,3.99),(999.58,3.78),(999.85,3.50),(1000.07,3.20),
 (1000.33,2.75),(1000.51,2.36),(1000.64,2.00),(1001.17,1.72),(1001.61,1.64),(1001.96,1.62),(1002.31,1.85),(1002.67,2.34),(1002.90,3.05),(1003.09,3.20),
 (1003.24,3.36),(1003.38,3.79),(1003.62,3.99),(1004.23,3.80),(1004.94,3.97),(1005.56,3.73),(1006.12,3.74),(1006.60,3.99),(1007.45,3.73),(1008.11,3.95),
 (1008.78,3.85),(1009.16,3.73),(1009.49,3.99),(1009.91,3.70),(1010.34,3.32),(1010.95,3.31),(1011.38,3.37),(1011.99,3.82),(1012.47,3.84),(1012.89,3.93),
 (1013.61,3.27),(1013.84,3.15),(1014.22,3.19),(1014.46,3.00),(1014.84,2.45),(1015.03,2.38),(1015.41,2.33),(1015.69,2.60),(1015.88,3.05),(1016.12,3.64),
 (1016.35,3.99),(1017.11,3.80),(1017.62,3.95),(1017.95,3.73),(1018.99,3.89),(1019.84,3.62),(1020.79,3.93),(1021.64,3.99),(1023.06,3.90),(1025.24,3.99),
 (1026.00,3.80),(1028.27,3.99),(1029.12,3.80),(1030.07,3.73),(1031.21,3.78),(1032.55,3.89),(1033.90,3.95),(1034.31,3.86),(1034.62,3.36),(1034.85,3.05),
 (1035.07,2.68),(1035.39,2.30),(1035.61,2.22),(1035.84,2.24),(1036.11,2.04),(1036.33,1.96),(1036.65,2.04),(1036.96,2.14),(1037.59,2.05),(1038.31,2.10),
 (1038.67,2.34),(1038.94,3.05),(1039.12,3.50),(1039.44,3.99),(1039.48,3.66),(1039.75,3.70),(1040.92,3.99),(1042.18,3.85),(1042.90,3.74),(1043.80,3.81),
 (1045.31,3.95)]
t4_green = [(989.44,2.30),(989.70,2.37),(990.06,2.30),(990.41,2.33),(990.59,2.37),(990.81,2.30),(991.07,1.78),(991.29,1.37),(991.47,1.07),(991.69,1.11),
 (991.95,1.33),(992.13,1.59),(992.26,1.67),(992.70,1.57),(993.10,1.52),(993.28,1.39),(993.50,1.48),(993.66,1.74),(993.76,2.07),(993.98,2.09),
 (994.25,1.74),(994.42,0.85),(994.57,0.00),(994.60,4.00),(994.69,3.45),(994.91,3.23),(995.26,3.49),(995.61,3.73),(996.05,3.56),(996.32,3.00),
 (996.49,2.56),(996.72,2.48),(997.02,2.71),(997.24,2.97),(997.42,3.41),(997.68,3.47),(997.99,3.19),(998.17,3.00),(998.43,2.71),(998.66,2.15),
 (998.79,1.81),(998.92,1.96),(999.01,2.15),(999.14,3.00),(999.23,4.00),(999.26,0.00),(999.30,0.10),(999.40,1.22),(999.54,2.15),(999.71,2.71),
 (999.89,2.56),(1000.15,2.52),(1000.24,2.33),(1000.42,1.81),(1000.86,1.33),(1001.17,1.29),(1001.74,1.15),(1002.14,1.29),(1002.58,1.15),(1003.05,1.00),
 (1003.33,0.85),(1003.66,0.07),(1003.70,4.00),(1003.99,3.45),(1004.18,3.60),(1004.47,3.71),(1004.70,3.45),(1004.85,3.00),(1004.92,2.67),(1005.13,2.56),
 (1005.37,3.00),(1005.65,3.49),(1006.03,3.43),(1006.25,4.00),(1006.27,0.00),(1006.36,0.48),(1006.74,1.44),(1006.98,1.52),(1007.26,1.07),(1007.45,1.07),
 (1007.73,1.52),(1007.97,1.96),(1008.21,2.04),(1008.49,2.15),(1008.87,1.93),(1009.11,1.22),(1009.25,0.62),(1009.53,0.77),(1009.86,1.33),(1010.10,1.50),
 (1010.43,1.22),(1010.67,1.22),(1010.95,0.85),(1011.10,0.64),(1011.29,0.96),(1011.57,1.09),(1012.00,0.92),(1012.28,1.11),(1012.52,1.13),(1012.71,0.81),
 (1012.94,0.40),(1013.08,0.70),(1013.51,1.52),(1013.65,1.59),(1013.89,1.44),(1014.65,1.39),(1015.03,1.29),(1015.36,1.48),(1015.74,1.63),(1015.93,1.15),
 (1016.21,0.00),(1016.26,4.00),(1016.40,3.64),(1016.49,4.00),(1016.54,0.03),(1016.87,1.22),(1017.06,1.48),(1017.28,1.00),(1017.52,0.72),(1017.76,0.70),
 (1017.95,0.55),(1018.18,1.15),(1018.37,0.74),(1018.47,1.00),(1018.80,1.41),(1019.04,2.04),(1019.10,2.26),(1019.22,1.96),(1019.41,1.78),(1019.60,1.72),
 (1019.79,2.04),(1019.98,2.26),(1020.31,1.81),(1020.46,1.50),(1020.79,1.78),(1020.93,1.81),(1021.12,1.29),(1021.26,1.15),(1021.40,1.15),(1021.64,0.66),
 (1021.81,0.38),(1022.07,0.77),(1022.26,0.85),(1022.54,1.03),(1022.73,1.59),(1022.97,1.96),(1023.25,2.15),(1023.44,1.96),(1023.68,1.67),(1023.91,1.81),
 (1024.10,2.04),(1024.39,2.26),(1024.53,2.15),(1024.81,2.11),(1025.03,1.59),(1025.16,0.85),(1025.38,0.00),(1025.43,4.00),(1025.71,3.30),(1025.95,4.00),
 (1025.96,0.00),(1026.09,0.40),(1026.37,0.40),(1026.61,0.00),(1026.62,4.00),(1026.85,3.52),(1027.13,3.39),(1027.46,4.00),(1027.47,0.00),(1027.65,0.33),
 (1027.89,0.46),(1028.17,0.36),(1028.46,0.00),(1028.51,4.00),(1028.74,3.77),(1029.12,3.60),(1029.36,3.00),(1029.41,2.82),(1029.69,2.86),(1029.97,3.00),
 (1030.30,2.82),(1030.49,1.96),(1030.68,0.85),(1030.87,0.00),(1030.92,4.00),(1031.06,3.30),(1031.25,4.00),(1031.30,0.00),(1031.34,0.85),(1031.46,1.44),
 (1031.65,1.67),(1031.79,1.96),(1031.93,2.45),(1032.33,2.71),(1032.42,3.00),(1032.55,4.00),(1032.56,0.00),(1032.69,0.85),(1033.00,1.59),(1033.18,1.74),
 (1033.81,2.00),(1034.26,2.15),(1034.80,2.26),(1035.03,2.04),(1035.43,1.59),(1035.61,1.41),(1035.88,1.44),(1036.24,1.29),(1036.60,1.26),(1036.96,1.16),
 (1037.32,1.22),(1037.86,1.29),(1038.31,1.37),(1038.49,1.41),(1038.76,1.59),(1039.03,1.29),(1039.16,0.85),(1039.41,0.00),(1039.45,4.00),(1039.50,3.90),
 (1039.60,4.00),(1039.66,0.00),(1039.88,0.85),(1040.20,0.96),(1040.38,1.67),(1040.60,1.85),(1041.10,1.89),(1041.55,2.04),(1041.82,1.96),(1042.00,1.59),
 (1042.36,0.85),(1042.67,0.00),(1042.68,4.00),(1042.94,3.45),(1043.12,2.78),(1043.39,2.82),(1043.61,3.08),(1043.87,4.00),(1043.88,0.00),(1043.97,0.85),
 (1044.15,1.29),(1044.47,1.44),(1044.96,1.48),(1045.19,1.22),(1045.31,0.66)]
t4_brown = [(989.48,2.26),(989.79,2.56),(990.06,2.61),(990.28,2.58),(990.50,2.45),(990.76,2.39),(991.07,1.96),(991.25,1.74),(991.56,1.65),(991.95,1.74),
 (992.26,1.68),(992.61,1.65),(993.32,1.63),(993.50,1.78),(993.67,2.04),(993.85,2.33),(994.20,2.39),(994.47,2.15),(994.64,1.59),(994.82,1.52),
 (995.13,1.67),(995.44,1.37),(995.79,0.92),(995.97,0.92),(996.23,0.81),(996.49,0.48),(996.89,1.03),(997.02,1.13),(997.20,1.14),(997.42,1.78),
 (997.64,1.87),(998.08,1.59),(998.39,0.85),(998.57,0.02),(999.10,0.02),(999.14,0.05),(999.36,1.22),(999.54,2.33),(999.71,3.12),(999.85,2.90),
 (1000.02,2.63),(1000.20,2.30),(1000.51,1.81),(1000.73,1.48),(1000.90,1.33),(1001.34,1.29),(1001.79,1.37),(1002.14,1.30),(1002.67,1.33),(1002.93,1.50),
 (1003.33,1.67),(1003.85,1.22),(1003.95,1.18),(1004.33,1.44),(1004.47,1.57),(1004.66,1.37),(1004.80,0.85),(1004.94,0.18),(1005.16,0.09),(1005.23,0.25),
 (1005.65,1.52),(1005.84,1.63),(1006.08,1.11),(1006.36,1.96),(1006.71,2.97),(1006.79,3.08),(1006.99,3.06),(1007.26,2.78),(1007.50,2.69),(1007.78,2.86),
 (1007.92,3.00),(1008.59,3.10),(1008.87,3.00),(1009.20,1.96),(1009.51,1.48),(1009.82,1.96),(1009.96,2.07),(1010.29,1.89),(1010.62,1.74),(1010.86,1.44),
 (1011.57,1.41),(1011.85,1.29),(1012.18,1.48),(1012.52,1.67),(1012.89,1.37),(1013.08,1.37),(1013.61,1.74),(1013.89,1.89),(1014.17,1.74),(1014.65,1.52),
 (1015.36,1.48),(1015.69,1.67),(1015.83,1.33),(1016.26,0.62),(1016.47,1.22),(1016.83,1.96),(1016.88,2.11),(1017.35,1.81),(1017.52,1.70),(1017.95,1.63),
 (1018.23,1.93),(1018.42,1.59),(1018.75,2.11),(1019.04,2.52),(1019.46,2.50),(1019.94,2.56),(1020.17,2.26),(1020.55,1.74),(1020.93,2.11),(1021.26,1.78),
 (1021.64,1.78),(1021.83,1.37),(1022.28,1.93),(1022.68,2.71),(1023.53,2.63),(1024.48,2.97),(1024.95,2.86),(1025.14,1.96),(1025.48,1.00),(1025.73,0.83),
 (1025.95,1.96),(1026.09,2.33),(1026.42,2.58),(1026.61,2.41),(1026.85,2.02),(1027.08,2.02),(1027.27,2.15),(1027.75,3.00),(1028.03,3.04),(1028.27,2.86),
 (1028.65,1.96),(1028.74,1.67),(1028.98,1.63),(1029.17,1.48),(1029.31,0.96),(1029.41,0.85),(1029.83,1.33),(1029.99,1.22),(1030.30,0.66),(1030.37,0.02),
 (1032.30,0.02),(1032.36,0.05),(1032.45,0.85),(1032.57,1.96),(1032.64,2.33),(1032.96,2.89),(1033.11,2.93),(1033.54,2.78),(1033.90,2.59),(1034.62,2.41),
 (1034.89,2.37),(1035.25,1.81),(1035.48,1.59),(1036.24,1.44),(1036.78,1.41),(1037.50,1.52),(1038.22,1.44),(1038.53,1.44),(1038.76,1.67),(1039.21,1.59),
 (1039.30,1.55),(1039.43,1.41),(1039.70,1.96),(1039.93,2.59),(1040.38,3.23),(1040.60,3.32),(1040.92,3.32),(1041.19,3.25),(1041.82,3.12),(1042.27,2.86),
 (1042.67,2.04),(1042.94,0.85),(1043.10,0.02),(1043.57,0.02),(1043.71,0.85),(1043.98,1.96),(1044.11,2.52),(1044.47,2.78),(1044.87,2.33),(1045.28,1.81)]


# ---------------- helpers ----------------
def split(pairs):
    a = np.asarray(pairs, float)
    return a[:, 0], a[:, 1]


def wrap_path(d, v, width):
    """Draw a curve on a wrap-around scale: leaving one edge re-enters at the other."""
    d = np.asarray(d, float)
    v = np.asarray(v, float)
    u = np.empty_like(v)
    u[0] = v[0]
    off = 0.0
    for i in range(1, len(v)):
        k = np.round((v[i] + off - u[i - 1]) / width)
        off -= k * width
        u[i] = v[i] + off
    bins = np.floor(u / width)
    xs, ys = [u[0] - bins[0] * width], [d[0]]
    for i in range(1, len(u)):
        b, b1 = bins[i - 1], bins[i]
        while b != b1:
            step = 1 if b1 > b else -1
            edge = (b + 1) * width if step > 0 else b * width
            t = (edge - u[i - 1]) / (u[i] - u[i - 1])
            dc = d[i - 1] + t * (d[i] - d[i - 1])
            xs += [edge - b * width, np.nan]
            ys += [dc, np.nan]
            b += step
            xs.append(edge - b * width)
            ys.append(dc)
        xs.append(u[i] - b1 * width)
        ys.append(d[i])
    return np.array(xs), np.array(ys)


W_PX, H_PX = 1632, 2112
fig = plt.figure(figsize=(W_PX / 100, H_PX / 100), dpi=100)
fig.patch.set_facecolor("white")


def add_track(x0, x1, xmax):
    ax = fig.add_axes([x0 / W_PX, 0, (x1 - x0) / W_PX, 1])
    ax.patch.set_visible(False)
    for s in ax.spines.values():
        s.set_visible(False)
    ax._xmax = xmax
    return ax


def finish(ax):
    ax.set_xlim(0, ax._xmax)
    ax.set_ylim(BOTTOM, TOP)
    ax.set_xticks([])
    ax.set_yticks([])
    ax.set_xlabel("")
    ax.set_ylabel("")
    ax.grid(False)


def grid(ax, ndiv, mid=None, vlw=1.2):
    xmax = ax._xmax
    for k in range(1, ndiv):
        ax.axvline(k * xmax / ndiv, color="black", lw=2.4 if k == mid else vlw, zorder=1)
    for dd in range(990, 1046):
        ax.axhline(dd, color="black", lw=1.9 if dd % 5 == 0 else 0.85, zorder=1)


def trace(ax, pairs_or_d, v=None, color="k", lw=1.0, dashes=None, z=3):
    if v is None:
        d, v = split(pairs_or_d)
    else:
        d = np.asarray(pairs_or_d, float)
        v = np.asarray(v, float)
    df = pd.DataFrame({"depth": d, "value": v})
    sns.lineplot(data=df, x="value", y="depth", orient="y", sort=False,
                 estimator=None, ax=ax, color=color, linewidth=lw, zorder=z)
    ln = ax.lines[-1]
    if dashes is not None:
        ln.set_dashes(dashes)
    ln.set_dash_capstyle("butt")
    return ln


# ---------------- depth track ----------------
ax0 = add_track(0, 143, 10)
sd, sv = split(sp_curve)
ax0.fill_betweenx(sd, SP_BASE, sv, where=sv >= SP_BASE, interpolate=True,
                  facecolor="#00BFFF", edgecolor="none", zorder=2)
ax0.fill_betweenx(sd, SP_BASE, sv, where=sv <= SP_BASE, interpolate=True,
                  facecolor="#D08A0C", edgecolor="none", zorder=2)
ax0.axvline(SP_BASE, color="black", lw=1.1, dashes=(6.5, 2.0), zorder=3)
trace(ax0, sp_curve, color="#8B4513", lw=2.1, dashes=(0.8, 0.9), z=4)
trace(ax0, caliper, color="black", lw=2.4, dashes=(1.8, 1.2), z=4)
trace(ax0, edge_curve, color="black", lw=2.2, dashes=(27, 3.3), z=4)
for dl in DEPTH_LABELS:
    ax0.text(8.88, dl + 0.06, str(dl), ha="right", va="baseline",
             fontsize=19, color="black", zorder=5)
finish(ax0)

# ---------------- track 1 ----------------
ax1 = add_track(143, 504, 10)
grid(ax1, 10, mid=5)
trace(ax1, t1_blue, color="#1A5CFF", lw=1.1, dashes=(8.5, 4.5), z=3)
trace(ax1, t1_green, color="#00B400", lw=2.2, dashes=(5.0, 2.6), z=3)
trace(ax1, t1_magenta, color="#FF00FF", lw=1.1, z=4)
trace(ax1, t1_red, color="#FF0000", lw=2.2, z=5)
finish(ax1)

# ---------------- track 2 ----------------
ax2 = add_track(504, 864, 10)
grid(ax2, 10, mid=5)
trace(ax2, t2_depth, t2_green, color="#00C000", lw=0.8, z=3)
trace(ax2, t2_depth, t2_blue, color="#1E7BFF", lw=2.0, dashes=(2.5, 1.5), z=3)
trace(ax2, t2_depth, t2_brown, color="#8B4513", lw=1.8, z=4)
trace(ax2, t2_depth, t2_orange, color="#FF8C00", lw=1.8, z=4)
trace(ax2, t2_depth, t2_red, color="#FF0000", lw=2.2, z=5)
finish(ax2)

# ---------------- track 3 ----------------
ax3 = add_track(864, 1224, 4)
grid(ax3, 4, vlw=1.3)
trace(ax3, t3_red, color="#FF0000", lw=2.2, z=5)
finish(ax3)

# ---------------- track 4 ----------------
ax4 = add_track(1224, 1584, 4)
grid(ax4, 4, vlw=1.3)
bd, bv = split(t4_black)
md, mv = split(t4_magenta)
dense = np.linspace(TOP, BOTTOM, 5000)
bi = np.interp(dense, bd, np.clip(bv, 0, 4))
mi = np.interp(dense, md, mv)
ax4.fill_betweenx(dense, bi, mi, where=bi < mi, facecolor="white",
                  edgecolor="#7a7a7a", hatch="...", linewidth=0, zorder=2)
trace(ax4, t4_brown, color="#A0522D", lw=0.8, dashes=(15, 6), z=3)
trace(ax4, t4_magenta, color="#FF00FF", lw=0.8, z=4)
trace(ax4, t4_magenta2, color="#FF00FF", lw=0.8, z=4)
gd, gv = split(t4_green)
gx, gy = wrap_path(gd, gv, 4.0)
ax4.plot(gx, gy, color="#00B400", lw=2.9, dashes=(5.2, 2.5), zorder=4, dash_capstyle="butt")
kx, ky = wrap_path(bd, bv, 4.0)
ax4.plot(kx, ky, color="black", lw=1.1, zorder=5)
finish(ax4)

# ---------------- track borders ----------------
ax1.axvline(0, color="black", lw=3.6, zorder=6, clip_on=False)
ax2.axvline(0, color="black", lw=3.6, zorder=6, clip_on=False)
ax3.axvline(0, color="black", lw=4.0, zorder=6, clip_on=False)
ax4.axvline(0, color="black", lw=3.6, zorder=6, clip_on=False)
ax4.axvline(4, color="black", lw=2.4, zorder=6, clip_on=False)
for a in (ax0, ax1, ax2, ax3, ax4):
    finish(a)

fig.savefig("out.png", dpi=100, facecolor="white")
